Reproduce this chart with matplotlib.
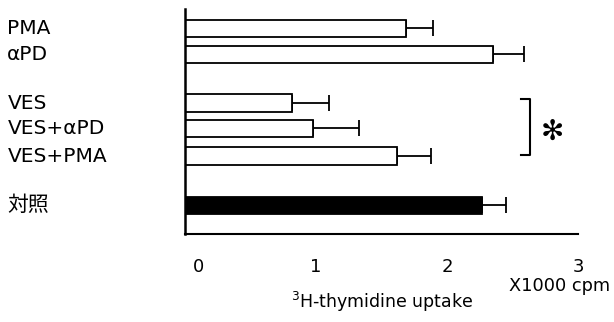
import matplotlib
matplotlib.use("Agg")
import matplotlib.pyplot as plt
import matplotlib.transforms as mtransforms

plt.rcParams['font.family'] = ['DejaVu Sans', 'Noto Sans CJK JP']

# data (x1000 cpm)
groups = ['PMA', 'αPD', 'VES', 'VES+αPD', 'VES+PMA', '対照']
positions = [6.81, 5.81, 3.94, 2.96, 1.9, 0.0]
uptake = [1.69, 2.35, 0.82, 0.98, 1.62, 2.27]
errors = [0.20, 0.24, 0.28, 0.35, 0.26, 0.18]
fills = ['white', 'white', 'white', 'white', 'white', 'black']
tick_vals = [0, 1, 2, 3]

fig = plt.figure(figsize=(6.14, 3.22), dpi=100)
ax = fig.add_axes([0.3013, 0.2733, 0.64, 0.699])

ax.barh(positions, uptake, height=0.66, color=fills, edgecolor='black',
        linewidth=1.3, zorder=2)
ax.errorbar(uptake, positions, xerr=[[0] * len(errors), errors], fmt='none',
            ecolor='black', elinewidth=1.3, capsize=6, capthick=1.3, zorder=1)

ax.set_xlim(0, 3)
ax.set_ylim(-1.1, 7.56)
ax.spines['top'].set_visible(False)
ax.spines['right'].set_visible(False)
ax.spines['left'].set_linewidth(1.8)
ax.spines['bottom'].set_linewidth(1.5)

ax.set_yticks([])
ax.set_xticks(tick_vals)
ax.set_xticklabels([str(v) for v in tick_vals], fontsize=13)
ax.tick_params(axis='x', length=0, pad=17)
# the "0" sits a bit right of the axis in the original
lbl0 = ax.get_xticklabels()[0]
lbl0.set_transform(lbl0.get_transform() +
                   mtransforms.ScaledTranslation(0.14, 0, fig.dpi_scale_trans))

# group labels on the left margin
lab_tf = mtransforms.blended_transform_factory(fig.transFigure, ax.transData)
for name, pos in zip(groups, positions):
    ax.text(0.012, pos, name, transform=lab_tf, ha='left', va='center',
            fontsize=15 if name == '対照' else 14.5)

# significance bracket
bx = 3 * (530 - 185) / 393
tick = 3 * (521 - 185) / 393
y_top, y_bot = 4.1, 1.94
ax.plot([tick, bx, bx, tick], [y_top, y_top, y_bot, y_bot], color='black',
        lw=1.5, clip_on=False)
ax.text(bx + 0.17, (y_top + y_bot) / 2 - 0.2, '✻', fontsize=20,
        ha='center', va='center')

fig.text(0.912, 0.113, 'X1000 cpm', fontsize=12.8, ha='center', va='center')
fig.text(0.622, 0.062, '$^3$H-thymidine uptake', fontsize=12.5, ha='center',
         va='center')

fig.savefig('out.png', dpi=100, facecolor='white')
